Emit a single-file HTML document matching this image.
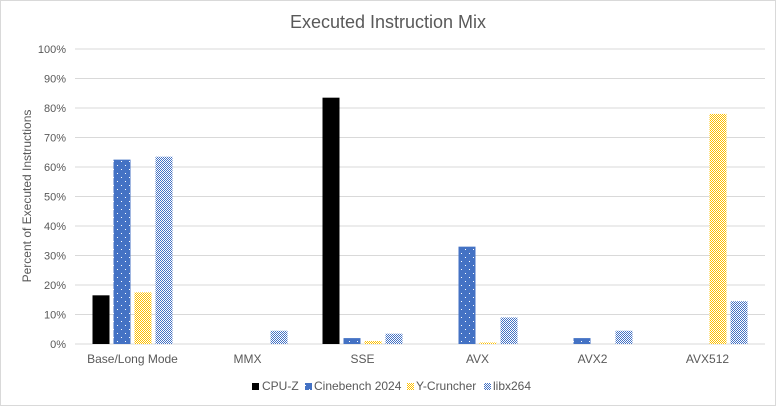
<!DOCTYPE html>
<html><head><meta charset="utf-8"><style>
html,body{margin:0;padding:0;background:#fff;}
svg{display:block;font-family:"Liberation Sans",sans-serif;}
</style></head><body>
<svg id="chart" width="776" height="406" viewBox="0 0 776 406">
<defs>
<pattern id="pCine" width="8" height="8" patternUnits="userSpaceOnUse"><rect width="8" height="8" fill="#4472c4"/><rect x="1" y="1" width="1" height="1" fill="#fff"/><rect x="5" y="5" width="1" height="1" fill="#fff"/></pattern>
<pattern id="pY" width="2" height="2" patternUnits="userSpaceOnUse"><rect width="2" height="2" fill="#fff"/><rect width="1" height="1" fill="#ffc000"/><rect x="1" y="1" width="1" height="1" fill="#ffc000"/></pattern>
<pattern id="pX" width="2" height="2" patternUnits="userSpaceOnUse"><rect width="2" height="2" fill="#fff"/><rect width="1" height="1" fill="#4472c4"/><rect x="1" y="1" width="1" height="1" fill="#4472c4"/></pattern>
</defs>
<rect x="0.5" y="0.5" width="775" height="405" fill="#fff" stroke="#d9d9d9"/>
<text x="388" y="28" text-anchor="middle" font-size="18" fill="#595959">Executed Instruction Mix</text>
<text transform="translate(31,196) rotate(-90)" text-anchor="middle" font-size="12" fill="#595959">Percent of Executed Instructions</text>
<g id="grid"></g><g id="bars"></g><g id="xl"></g>
<g font-size="12" fill="#595959">
<rect x="252" y="383" width="7" height="7" fill="#000"/>
<text x="262" y="390">CPU-Z</text>
<rect x="305" y="383" width="7" height="7" fill="url(#pCine)"/>
<text x="314" y="390">Cinebench 2024</text>
<rect x="407" y="383" width="7" height="7" fill="url(#pY)"/>
<text x="416" y="390">Y-Cruncher</text>
<rect x="484" y="383" width="7" height="7" fill="url(#pX)"/>
<text x="493" y="390">libx264</text>
</g>
</svg>
<script>
const categories=["Base/Long Mode","MMX","SSE","AVX","AVX2","AVX512"];
const cpuz=[16.5,0,83.5,0,0,0];
const cinebench=[62.5,0,2,33,2,0];
const ycruncher=[17.5,0,1,0.5,0,78];
const libx264=[63.5,4.5,3.5,9,4.5,14.5];
const yTicks=[0,10,20,30,40,50,60,70,80,90,100];
const NS="http://www.w3.org/2000/svg";
const x0=75,x1=765,y0=344,y100=49;
const yS=v=>y0-(v/100)*(y0-y100);
const cw=(x1-x0)/categories.length;
const grid=document.getElementById('grid'),bars=document.getElementById('bars'),xl=document.getElementById('xl');
function mk(t,a,p){const e=document.createElementNS(NS,t);for(const k in a)e.setAttribute(k,a[k]);p.appendChild(e);return e;}
yTicks.forEach(v=>{
  const l=mk('line',{x1:x0,x2:x1,y1:yS(v),y2:yS(v),stroke:'#d9d9d9','stroke-width':1},grid);
  
  
  const t=mk('text',{x:66,y:yS(v)+4,'text-anchor':'end','font-size':11,fill:'#595959'},grid);
  t.textContent=v+'%';
  
  
});
const series=[[cpuz,'#000','cpuz'],[cinebench,'url(#pCine)','cinebench'],[ycruncher,'url(#pY)','ycruncher'],[libx264,'url(#pX)','libx264']];
const bw=17,gap=4,gw=4*bw+3*gap;
categories.forEach((c,i)=>{
  const cx=x0+cw*(i+0.5);
  series.forEach((s,j)=>{
    const v=s[0][i];
    const r=mk('rect',{x:cx-gw/2+j*(bw+gap),y:yS(v),width:bw,height:y0-yS(v),fill:s[1]},bars);
    
    
  });
  const t=mk('text',{x:cx,y:363,'text-anchor':'middle','font-size':12,fill:'#595959'},xl);
  t.textContent=c;
  
  
});
</script>
</body></html>
